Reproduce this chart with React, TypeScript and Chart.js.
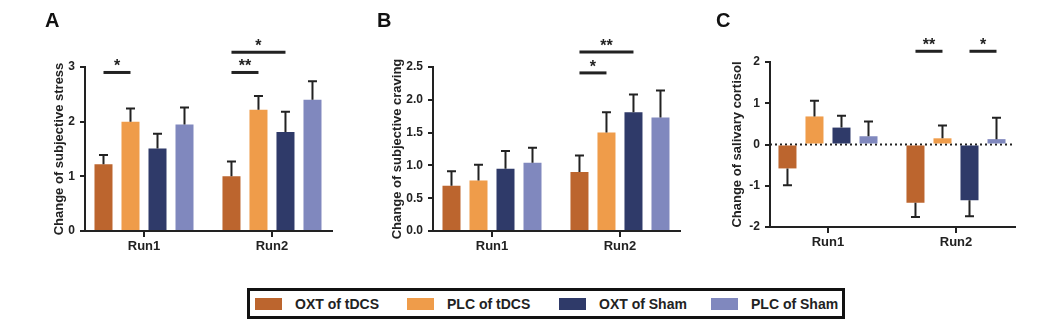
import React, { useEffect, useRef } from "react";
import { Chart, registerables } from "chart.js";

Chart.register(...registerables);

const FONT = "'Liberation Sans', Arial, Helvetica, sans-serif";
const INK = "#222222";
Chart.defaults.font.family = FONT;
Chart.defaults.color = INK;

// ---------- shared categories / series ----------
const runLabels = ["Run1", "Run2"];
const groupNames = ["OXT of tDCS", "PLC of tDCS", "OXT of Sham", "PLC of Sham"];
const groupColors = ["#BC652E", "#EF9C4A", "#2F3A69", "#8088BE"];

// ---------- Panel A: subjective stress ----------
const stressMean = [
  [1.22, 1.0],
  [2.0, 2.22],
  [1.51, 1.81],
  [1.95, 2.4],
];
const stressSem = [
  [0.17, 0.27],
  [0.24, 0.25],
  [0.27, 0.37],
  [0.31, 0.34],
];
const stressTicks = [0, 1, 2, 3];
const stressSig = [
  { run: 0, from: 0, to: 1, y: 2.9, label: "*" },
  { run: 1, from: 0, to: 1, y: 2.9, label: "**" },
  { run: 1, from: 0, to: 2, y: 3.27, label: "*" },
];

// ---------- Panel B: subjective craving ----------
const cravingMean = [
  [0.69, 0.9],
  [0.77, 1.5],
  [0.95, 1.81],
  [1.04, 1.73],
];
const cravingSem = [
  [0.22, 0.25],
  [0.24, 0.31],
  [0.27, 0.27],
  [0.23, 0.41],
];
const cravingTicks = [0, 0.5, 1, 1.5, 2, 2.5];
const cravingSig = [
  { run: 1, from: 0, to: 1, y: 2.41, label: "*" },
  { run: 1, from: 0, to: 2, y: 2.73, label: "**" },
];

// ---------- Panel C: salivary cortisol ----------
const cortisolMean = [
  [-0.58, -1.41],
  [0.68, 0.15],
  [0.41, -1.35],
  [0.2, 0.13],
];
const cortisolSem = [
  [0.41, 0.35],
  [0.38, 0.31],
  [0.29, 0.39],
  [0.36, 0.52],
];
const cortisolTicks = [-2, -1, 0, 1, 2];
const cortisolSig = [
  { run: 1, from: 0, to: 1, y: 2.26, label: "**" },
  { run: 1, from: 2, to: 3, y: 2.26, label: "*" },
];

type Sig = { run: number; from: number; to: number; y: number; label: string };
type PanelSpec = {
  mean: number[][];
  sem: number[][];
  sig: Sig[];
  ticks: number[];
  fmt: (v: number) => string;
  yMin: number;
  yMax: number;
  title: string;
  zeroLine: boolean;
  // layout
  left: number;
  width: number;
  height: number;
  padTop: number;
  padRight: number;
  yAxisW: number;
  xAxisH: number;
  titlePad: number;
  xMin: number;
  xMax: number;
};

function makeAnnot(p: PanelSpec) {
  return {
    id: "annot",
    beforeDatasetsDraw(chart: any) {
      if (!p.zeroLine) return;
      const { ctx, chartArea } = chart;
      const y = chart.scales.y;
      const yy = y.getPixelForValue(0);
      ctx.save();
      ctx.setLineDash([2, 3]);
      ctx.lineWidth = 2;
      ctx.strokeStyle = INK;
      ctx.beginPath();
      ctx.moveTo(chartArea.left, yy);
      ctx.lineTo(chartArea.right, yy);
      ctx.stroke();
      ctx.restore();
    },
    afterDatasetsDraw(chart: any) {
      const { ctx } = chart;
      const y = chart.scales.y;
      ctx.save();
      ctx.strokeStyle = INK;
      ctx.lineWidth = 2;
      chart.data.datasets.forEach((_ds: any, di: number) => {
        const meta = chart.getDatasetMeta(di);
        meta.data.forEach((bar: any, ri: number) => {
          const v = p.mean[di][ri];
          const e = p.sem[di][ri];
          const end = v >= 0 ? v + e : v - e;
          const y0 = y.getPixelForValue(v);
          const y1 = y.getPixelForValue(end);
          ctx.beginPath();
          ctx.moveTo(bar.x, y0);
          ctx.lineTo(bar.x, y1);
          ctx.moveTo(bar.x - 4.5, y1);
          ctx.lineTo(bar.x + 4.5, y1);
          ctx.stroke();
        });
      });
      ctx.lineWidth = 3;
      ctx.fillStyle = INK;
      ctx.font = `bold 16px ${FONT}`;
      ctx.textAlign = "center";
      ctx.textBaseline = "alphabetic";
      p.sig.forEach((s) => {
        const a = chart.getDatasetMeta(s.from).data[s.run];
        const b = chart.getDatasetMeta(s.to).data[s.run];
        const yy = y.getPixelForValue(s.y);
        ctx.beginPath();
        ctx.moveTo(a.x, yy);
        ctx.lineTo(b.x, yy);
        ctx.stroke();
        ctx.fillText(s.label, (a.x + b.x) / 2, yy - 1);
      });
      ctx.restore();
    },
  };
}

function makeConfig(p: PanelSpec): any {
  const axisGrid = {
    display: true,
    drawOnChartArea: false,
    drawTicks: true,
    offset: false,
    color: INK,
    lineWidth: 2,
    tickLength: 5,
  };
  const axisBorder = { display: true, color: INK, width: 2 };
  return {
    type: "bar",
    data: {
      datasets: groupNames.map((name, gi) => ({
        label: name,
        data: p.mean[gi].map((v, ri) => ({ x: ri, y: v })),
        backgroundColor: groupColors[gi],
        borderWidth: 0,
        barPercentage: 0.667,
        categoryPercentage: 0.844,
      })),
    },
    options: {
      animation: false,
      responsive: false,
      events: [],
      layout: { padding: { top: p.padTop, right: p.padRight, left: 0, bottom: 0 } },
      plugins: { legend: { display: false }, tooltip: { enabled: false }, title: { display: false } },
      scales: {
        x: {
          type: "linear",
          min: p.xMin,
          max: p.xMax,
          offset: false,
          afterBuildTicks: (s: any) => {
            s.ticks = runLabels.map((_l, i) => ({ value: i }));
          },
          afterFit: (s: any) => {
            s.height = p.xAxisH;
          },
          ticks: {
            callback: (v: number) => runLabels[v] ?? "",
            font: { size: 13, weight: "bold" },
            color: INK,
            padding: 2,
            maxRotation: 0,
            autoSkip: false,
          },
          grid: { ...axisGrid, tickLength: 6 },
          border: axisBorder,
        },
        y: {
          type: "linear",
          min: p.yMin,
          max: p.yMax,
          afterBuildTicks: (s: any) => {
            s.ticks = p.ticks.map((v) => ({ value: v }));
          },
          afterFit: (s: any) => {
            s.width = p.yAxisW;
          },
          ticks: {
            callback: (v: number) => p.fmt(v),
            font: { size: 12, weight: "bold" },
            color: INK,
            padding: 5,
          },
          grid: axisGrid,
          border: axisBorder,
          title: {
            display: true,
            text: p.title,
            font: { size: 13, weight: "bold" },
            color: INK,
            padding: { top: p.titlePad, bottom: 0 },
          },
        },
      },
    },
    plugins: [makeAnnot(p)],
  };
}

const panels: PanelSpec[] = [
  {
    mean: stressMean,
    sem: stressSem,
    sig: stressSig,
    ticks: stressTicks,
    fmt: (v) => String(v),
    yMin: 0,
    yMax: 3,
    title: "Change of subjective stress",
    zeroLine: false,
    left: 0,
    width: 345,
    height: 262,
    padTop: 67,
    padRight: 13,
    yAxisW: 85,
    xAxisH: 31,
    titlePad: 52,
    xMin: -0.461,
    xMax: 1.469,
  },
  {
    mean: cravingMean,
    sem: cravingSem,
    sig: cravingSig,
    ticks: cravingTicks,
    fmt: (v) => v.toFixed(1),
    yMin: 0,
    yMax: 2.5,
    title: "Change of subjective craving",
    zeroLine: false,
    left: 345,
    width: 345,
    height: 262,
    padTop: 67,
    padRight: 10,
    yAxisW: 88,
    xAxisH: 31,
    titlePad: 45,
    xMin: -0.461,
    xMax: 1.469,
  },
  {
    mean: cortisolMean,
    sem: cortisolSem,
    sig: cortisolSig,
    ticks: cortisolTicks,
    fmt: (v) => String(v),
    yMin: -2,
    yMax: 2,
    title: "Change of salivary cortisol",
    zeroLine: true,
    left: 690,
    width: 348,
    height: 262,
    padTop: 62,
    padRight: 23,
    yAxisW: 80,
    xAxisH: 35,
    titlePad: 40,
    xMin: -0.453,
    xMax: 1.461,
  },
];

const panelLetters = ["A", "B", "C"];
const letterLeft = [45, 377, 716];

function Panel({ spec }: { spec: PanelSpec }) {
  const ref = useRef<HTMLCanvasElement | null>(null);
  useEffect(() => {
    if (!ref.current) return;
    const chart = new Chart(ref.current, makeConfig(spec));
    return () => chart.destroy();
  }, [spec]);
  return (
    <canvas
      ref={ref}
      width={spec.width}
      height={spec.height}
      style={{ position: "absolute", left: spec.left, top: 0, width: spec.width, height: spec.height }}
    />
  );
}

export default function App() {
  return (
    <div
      style={{
        position: "absolute",
        left: 0,
        top: 0,
        width: 1038,
        height: 324,
        background: "#ffffff",
        fontFamily: FONT,
        color: INK,
        overflow: "hidden",
      }}
    >
      {panels.map((p, i) => (
        <Panel key={i} spec={p} />
      ))}
      {panelLetters.map((l, i) => (
        <div
          key={l}
          style={{
            position: "absolute",
            left: letterLeft[i],
            top: 10,
            fontSize: 20,
            lineHeight: "20px",
            fontWeight: "bold",
            color: "#111",
          }}
        >
          {l}
        </div>
      ))}
      <div
        style={{
          position: "absolute",
          left: 247,
          top: 288,
          width: 598,
          height: 31,
          border: "3px solid #111",
          boxSizing: "border-box",
        }}
      >
        {groupNames.map((n, i) => (
          <div
            key={n}
            style={{
              position: "absolute",
              left: 5 + i * 152,
              top: 0,
              height: 25,
              display: "flex",
              alignItems: "center",
              whiteSpace: "nowrap",
            }}
          >
            <span style={{ display: "inline-block", width: 27, height: 12, background: groupColors[i] }} />
            <span style={{ marginLeft: 13, fontWeight: "bold", fontSize: 14, color: INK }}>{n}</span>
          </div>
        ))}
      </div>
    </div>
  );
}
